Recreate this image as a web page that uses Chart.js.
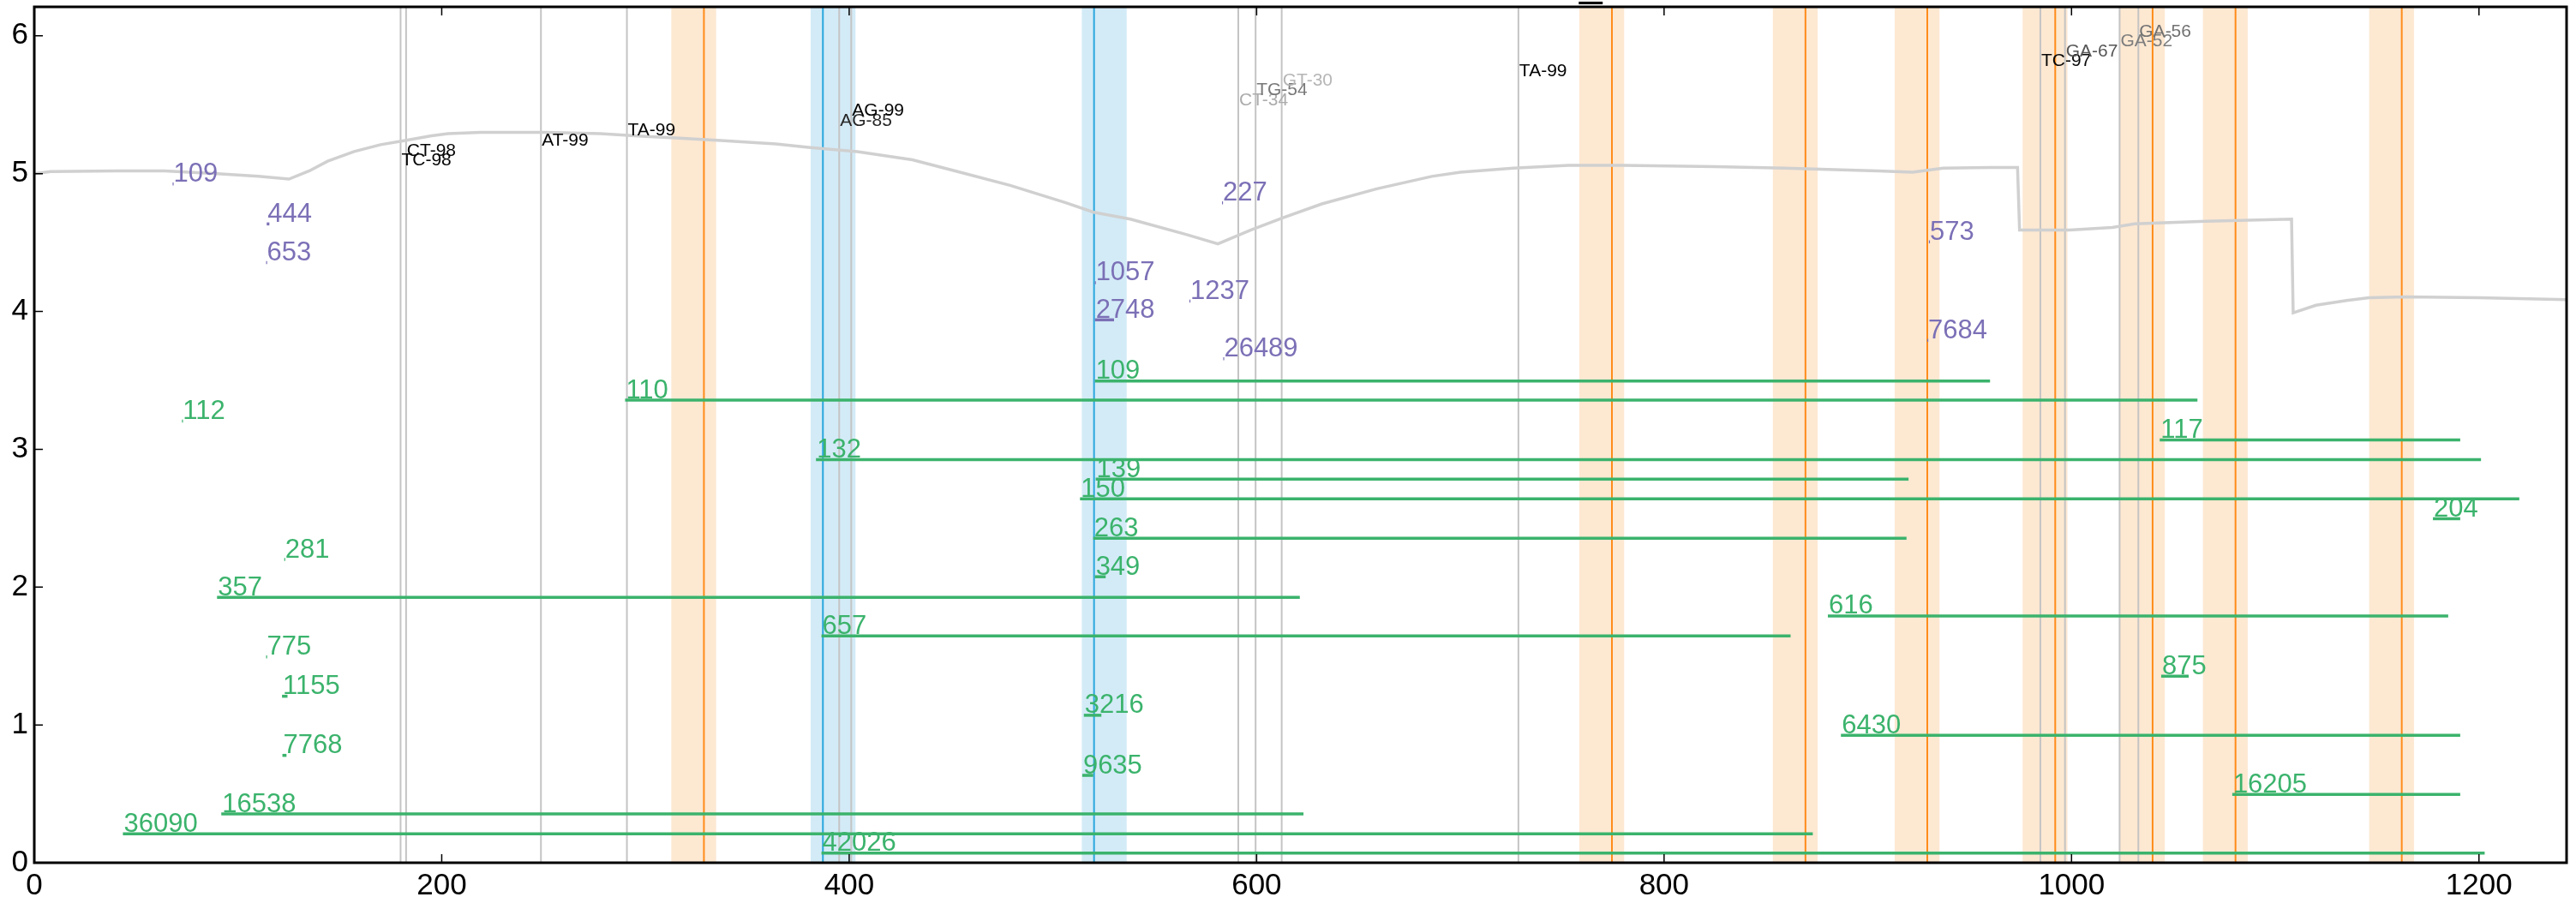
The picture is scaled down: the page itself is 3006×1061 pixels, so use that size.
<!DOCTYPE html>
<html>
<head>
<meta charset="utf-8">
<script src="https://cdn.jsdelivr.net/npm/chart.js@4.4.0/dist/chart.umd.min.js"></script>
<style>
  html, body { margin: 0; padding: 0; background: #fff; }
  canvas { display: block; }
</style>
</head>
<body>
<canvas id="myChart" width="3006" height="1061" style="width:3006px;height:1061px"></canvas>
<script>
// axis ranges
var xMax = 1243
var yMax = 6.21

// grey profile curve
var curveX = [0, 8, 40, 64, 90, 110, 125, 135, 144, 157, 170, 182, 195, 203, 219, 235, 251, 278, 300, 313,
              337, 364, 380, 404, 431, 452, 479, 506, 520, 538, 565, 581, 597, 613, 632, 659, 686, 700, 726, 753,
              780, 825, 859, 905, 922, 937, 960, 973.5, 974.5, 999, 1020, 1031, 1066, 1108, 1108.8, 1120, 1135, 1146, 1164, 1200,
              1243]
var curveY = [5.00, 5.015, 5.02, 5.02, 5.00, 4.98, 4.96, 5.02, 5.09, 5.16, 5.21, 5.24, 5.275, 5.29, 5.30, 5.30, 5.30, 5.29, 5.27, 5.26,
              5.24, 5.215, 5.19, 5.16, 5.10, 5.02, 4.915, 4.79, 4.72, 4.67, 4.56, 4.49, 4.59, 4.68, 4.78, 4.89, 4.98, 5.01, 5.04, 5.06,
              5.06, 5.05, 5.04, 5.02, 5.01, 5.04, 5.045, 5.045, 4.59, 4.59, 4.61, 4.635, 4.655, 4.67, 3.99, 4.045, 4.08, 4.10, 4.106, 4.10,
              4.085]

// grey site lines and their labels
var siteX = [179.8, 182.5, 248.7, 290.9, 395.1, 401.0, 591.0, 599.5, 612.3, 728.5, 984.7, 996.8, 1023.6, 1032.8]
var siteLabel = ['TC-98', 'CT-98', 'AT-99', 'TA-99', 'AG-85', 'AG-99', 'CT-34', 'TG-54', 'GT-30', 'TA-99', 'TC-97', 'GA-67', 'GA-52', 'GA-56']
var siteLabelY = [5.063, 5.13, 5.204, 5.275, 5.347, 5.42, 5.495, 5.567, 5.64, 5.706, 5.78, 5.847, 5.923, 5.99]

// orange and blue marker lines
var orangeX = [328.7, 774.4, 869.4, 929.2, 992.0, 1039.8, 1080.5, 1162.1]
var blueX = [387.1, 520.2]

// purple items
var purpleStart = [67.9, 114.1, 113.8, 583.0, 520.6, 567.0, 520.6, 583.6, 930.0, 929.2]
var purpleEnd = [68.4, 115.4, 114.3, 583.5, 521.1, 567.5, 530.0, 584.1, 930.5, 929.7]
var purpleY = [4.925, 4.635, 4.354, 4.788, 4.209, 4.075, 3.939, 3.656, 4.505, 3.79]
var purpleLabel = ['109', '444', '653', '227', '1057', '1237', '2748', '26489', '573', '7684']

// green items
var greenStart = [72.5, 290, 383.7, 122.7, 89.7, 520.6, 521, 513.3, 519.8, 520.6, 1043.3, 1177.4, 880.4, 386.4, 113.8,
                  121.6, 121.8, 91.8, 43.5, 386.4, 515.2, 514.4, 1044, 886.8, 1078.9]
var greenEnd = [73, 1061.8, 1201, 123.2, 621.2, 960, 920, 1219.8, 919, 525.9, 1190.8, 1190.8, 1184.9, 862.1, 114.3,
                124.3, 123.8, 623, 873, 1202.8, 523.8, 519.8, 1057.5, 1190.8, 1190.8]
var greenY = [3.205, 3.356, 2.925, 2.20, 1.926, 3.495, 2.784, 2.641, 2.355, 2.075, 3.068, 2.496, 1.791, 1.646, 1.494,
              1.208, 0.779, 0.354, 0.2096, 0.0703, 1.07, 0.634, 1.354, 0.925, 0.496]
var greenLabel = ['112', '110', '132', '281', '357', '109', '139', '150', '263', '349', '117', '204', '616', '657', '775',
                  '1155', '7768', '16538', '36090', '42026', '3216', '9635', '875', '6430', '16205']

var FONT = "'Liberation Sans', Arial, sans-serif"
var GREEN = '#3bb36c'
var PURPLE = '#7b70b6'

function vline(x, color, order) {
    return {
        data: [{x: x, y: 0}, {x: x, y: yMax}],
        borderColor: color, borderWidth: 2, pointRadius: 0, order: order
    }
}

function segment(x0, x1, y, color, order) {
    return {
        data: [{x: x0, y: y}, {x: x1, y: y}],
        borderColor: color, borderWidth: 3.5, borderCapStyle: 'butt', pointRadius: 0, order: order
    }
}

var datasets = []
siteX.forEach(function (v) { datasets.push(vline(v, '#c4c4c4', 6)) })
orangeX.forEach(function (v) { datasets.push(vline(v, '#ff8c1a', 5)) })
blueX.forEach(function (v) { datasets.push(vline(v, '#2aa6de', 4)) })
datasets.push({
    data: curveX.map(function (v, i) { return {x: v, y: curveY[i]} }),
    borderColor: '#d0d0d0', borderWidth: 3.5, pointRadius: 0, tension: 0, order: 3
})
greenStart.forEach(function (v, i) { datasets.push(segment(v, greenEnd[i], greenY[i], GREEN, 2)) })
purpleStart.forEach(function (v, i) { datasets.push(segment(v, purpleEnd[i], purpleY[i], PURPLE, 1)) })

function siteColor(lab) {
    var score = +lab.split('-')[1]
    var g = Math.min(200, Math.round((100 - score) * 2.6))
    return 'rgb(' + g + ',' + g + ',' + g + ')'
}

var decor = {
    id: 'decor',
    beforeDraw: function (chart) {
        var ctx = chart.ctx
        ctx.save()
        ctx.fillStyle = '#fff'
        ctx.fillRect(0, 0, chart.width, chart.height)
        ctx.restore()
    },
    beforeDatasetsDraw: function (chart) {
        var ctx = chart.ctx, a = chart.chartArea, x = chart.scales.x
        ctx.save()
        ctx.beginPath()
        ctx.rect(a.left, a.top, a.right - a.left, a.bottom - a.top)
        ctx.clip()
        ctx.fillStyle = '#fde8d2'
        orangeX.forEach(function (v) {
            var l = x.getPixelForValue(v - 16), r = x.getPixelForValue(v + 6)
            ctx.fillRect(l, a.top, r - l, a.bottom - a.top)
        })
        ctx.fillStyle = '#d3ebf7'
        blueX.forEach(function (v) {
            var l = x.getPixelForValue(v - 6), r = x.getPixelForValue(v + 16)
            ctx.fillRect(l, a.top, r - l, a.bottom - a.top)
        })
        ctx.restore()
    },
    afterDatasetsDraw: function (chart) {
        var ctx = chart.ctx, x = chart.scales.x, y = chart.scales.y
        ctx.save()
        ctx.textAlign = 'left'
        ctx.textBaseline = 'alphabetic'

        ctx.font = '21px ' + FONT
        siteLabel.forEach(function (lab, i) {
            ctx.fillStyle = siteColor(lab)
            ctx.fillText(lab, x.getPixelForValue(siteX[i]) + 1, y.getPixelForValue(siteLabelY[i]))
        })

        ctx.font = '31px ' + FONT
        ctx.fillStyle = GREEN
        greenLabel.forEach(function (lab, i) {
            ctx.fillText(lab, x.getPixelForValue(greenStart[i]) + 1, y.getPixelForValue(greenY[i]) - 2.5)
        })
        ctx.fillStyle = PURPLE
        purpleLabel.forEach(function (lab, i) {
            ctx.fillText(lab, x.getPixelForValue(purpleStart[i]) + 1, y.getPixelForValue(purpleY[i]) - 2.5)
        })
        ctx.restore()
    },
    afterDraw: function (chart) {
        var ctx = chart.ctx, a = chart.chartArea, x = chart.scales.x, y = chart.scales.y
        ctx.save()
        ctx.strokeStyle = '#000'
        ctx.lineWidth = 1.5
        ctx.beginPath()
        x.ticks.forEach(function (t) {
            var px = x.getPixelForValue(t.value)
            ctx.moveTo(px, a.bottom); ctx.lineTo(px, a.bottom - 10)
            ctx.moveTo(px, a.top); ctx.lineTo(px, a.top + 10)
        })
        y.ticks.forEach(function (t) {
            var py = y.getPixelForValue(t.value)
            ctx.moveTo(a.left, py); ctx.lineTo(a.left + 10, py)
        })
        ctx.stroke()
        ctx.lineWidth = 3
        ctx.strokeRect(a.left, a.top, a.right - a.left, a.bottom - a.top)

        // small cut-off title mark above the plot
        ctx.fillStyle = '#000'
        ctx.font = '48px ' + FONT
        ctx.textAlign = 'center'
        ctx.fillText('_', x.getPixelForValue(764), -5)
        ctx.restore()
    }
}

var ctx = document.getElementById('myChart')

var myChart = new Chart(ctx, {
    type: 'line',
    data: { datasets: datasets },
    options: {
        responsive: false,
        animation: false,
        devicePixelRatio: 1,
        layout: { padding: { top: 8, right: 11, left: 0, bottom: 0 } },
        plugins: { legend: { display: false }, tooltip: { enabled: false } },
        scales: {
            x: {
                type: 'linear', min: 0, max: xMax,
                grid: { display: false, drawTicks: false },
                border: { display: false },
                ticks: { stepSize: 200, includeBounds: false, maxRotation: 0, autoSkip: false, padding: 6,
                         color: '#000', font: { family: FONT, size: 35 },
                         callback: function (v) { return String(v) } },
                afterFit: function (s) {
                    s.height = 54
                    s.paddingLeft = 0
                    s.paddingRight = 0
                }
            },
            y: {
                type: 'linear', min: 0, max: yMax,
                grid: { display: false, drawTicks: false },
                border: { display: false },
                ticks: { stepSize: 1, includeBounds: false, padding: 7,
                         color: '#000', font: { family: FONT, size: 35 },
                         callback: function (v) { return String(v) } },
                afterFit: function (s) {
                    s.width = 40
                    s.paddingTop = 0
                    s.paddingBottom = 0
                }
            }
        }
    },
    plugins: [decor]
})
</script>
</body>
</html>
